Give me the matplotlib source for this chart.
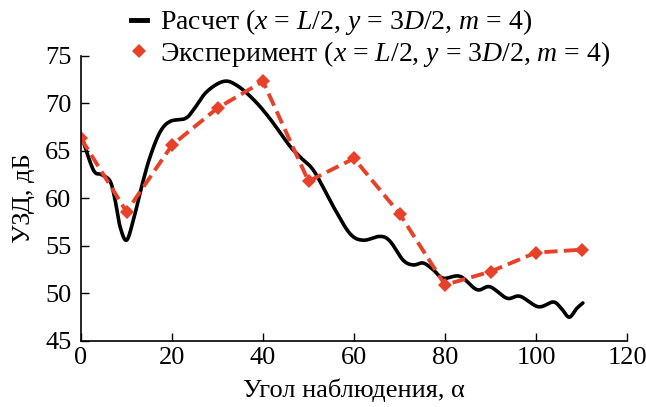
import matplotlib
matplotlib.use("Agg")
import matplotlib.pyplot as plt
import numpy as np
from matplotlib.lines import Line2D

# Calculation curve (traced)
calc_x = [0.15, 2.7, 4.5, 6.4, 7.5, 8.6, 10.0, 11.5, 13.3, 15.2, 17.4, 19.6, 22.9, 24.7, 27.6,
          31.3, 34.2, 37.9, 41.5, 45.9, 48.5, 51.3, 55.5, 59.1, 62.0, 65.7, 67.9, 70.8, 73.0,
          75.2, 77.4, 79.6, 83.3, 87.0, 89.9, 93.6, 96.5, 100.5, 103.8, 105.6, 107.3, 108.9, 110.3]
calc_y = [66.5, 63.0, 62.5, 61.8, 59.8, 57.0, 55.6, 57.7, 61.2, 64.4, 67.0, 68.1, 68.4, 69.3, 71.2,
          72.3, 71.9, 70.4, 68.4, 65.5, 64.2, 62.8, 59.1, 56.3, 55.6, 56.0, 55.5, 53.5, 53.0,
          53.2, 52.5, 51.6, 51.8, 50.4, 50.7, 49.5, 49.7, 48.6, 49.1, 48.4, 47.5, 48.4, 49.0]

# Experiment
exp_x = [0, 10, 20, 30, 40, 50, 60, 70, 80, 90, 100, 110]
exp_y = [66.3, 58.6, 65.6, 69.5, 72.3, 61.8, 64.2, 58.4, 50.9, 52.3, 54.3, 54.6]

x_ticks = [0, 20, 40, 60, 80, 100, 120]
y_ticks = [45, 50, 55, 60, 65, 70, 75]

labels = [r'Расчет ($x$ = $L$/2, $y$ = 3$D$/2, $m$ = 4)',
          r'Эксперимент ($x$ = $L$/2, $y$ = 3$D$/2, $m$ = 4)']

plt.rcParams['font.family'] = ['Liberation Serif', 'DejaVu Serif']
plt.rcParams['mathtext.fontset'] = 'custom'
plt.rcParams['mathtext.it'] = 'Liberation Serif:italic'
plt.rcParams['mathtext.rm'] = 'Liberation Serif'

FS = 19
fig = plt.figure(figsize=(6.46, 4.07), dpi=100)
ax = fig.add_axes([0.1254, 0.1622, 0.8452, 0.7008])

# Catmull-Rom smoothing of traced points
xs = np.array(calc_x); ys = np.array(calc_y)
pts = np.column_stack([xs, ys])
out = []
P = np.vstack([pts[0], pts, pts[-1]])
for i in range(1, len(P) - 2):
    p0, p1, p2, p3 = P[i - 1], P[i], P[i + 1], P[i + 2]
    for s in np.linspace(0, 1, 20, endpoint=False):
        s2, s3 = s * s, s * s * s
        out.append(0.5 * ((2 * p1) + (-p0 + p2) * s + (2 * p0 - 5 * p1 + 4 * p2 - p3) * s2
                          + (-p0 + 3 * p1 - 3 * p2 + p3) * s3))
out.append(pts[-1])
out = np.array(out)

ax.plot(out[:, 0], out[:, 1], color='black', lw=2.6, solid_capstyle='round')
ax.plot(exp_x, exp_y, color='#E8412A', lw=2.8, ls=(0, (3.4, 1.6)), marker='D', ms=7,
        markeredgewidth=0)

ax.set_xlim(0, 120)
ax.set_ylim(45, 75)
ax.set_xticks(x_ticks)
ax.set_yticks(y_ticks)
ax.tick_params(direction='in', length=6, width=1, labelsize=FS, pad=4)
ax.tick_params(axis='y', pad=7)
for s in ['top', 'right']:
    ax.spines[s].set_visible(False)
for s in ['left', 'bottom']:
    ax.spines[s].set_linewidth(1.2)
ax.set_xlabel('Угол наблюдения, α', fontsize=FS, labelpad=7)
ax.set_ylabel('УЗД, дБ', fontsize=FS, labelpad=7)

h1 = Line2D([], [], color='black', lw=3.5)
h2 = Line2D([], [], color='#E8412A', lw=0, marker='D', ms=7, markeredgewidth=0)
fig.legend([h1, h2], labels,
           loc='upper left', bbox_to_anchor=(0.172, 1.03), frameon=False, fontsize=20,
           handlelength=0.6, handletextpad=0.45, labelspacing=0.05, borderpad=0.2)

fig.savefig('out.png', dpi=100)
